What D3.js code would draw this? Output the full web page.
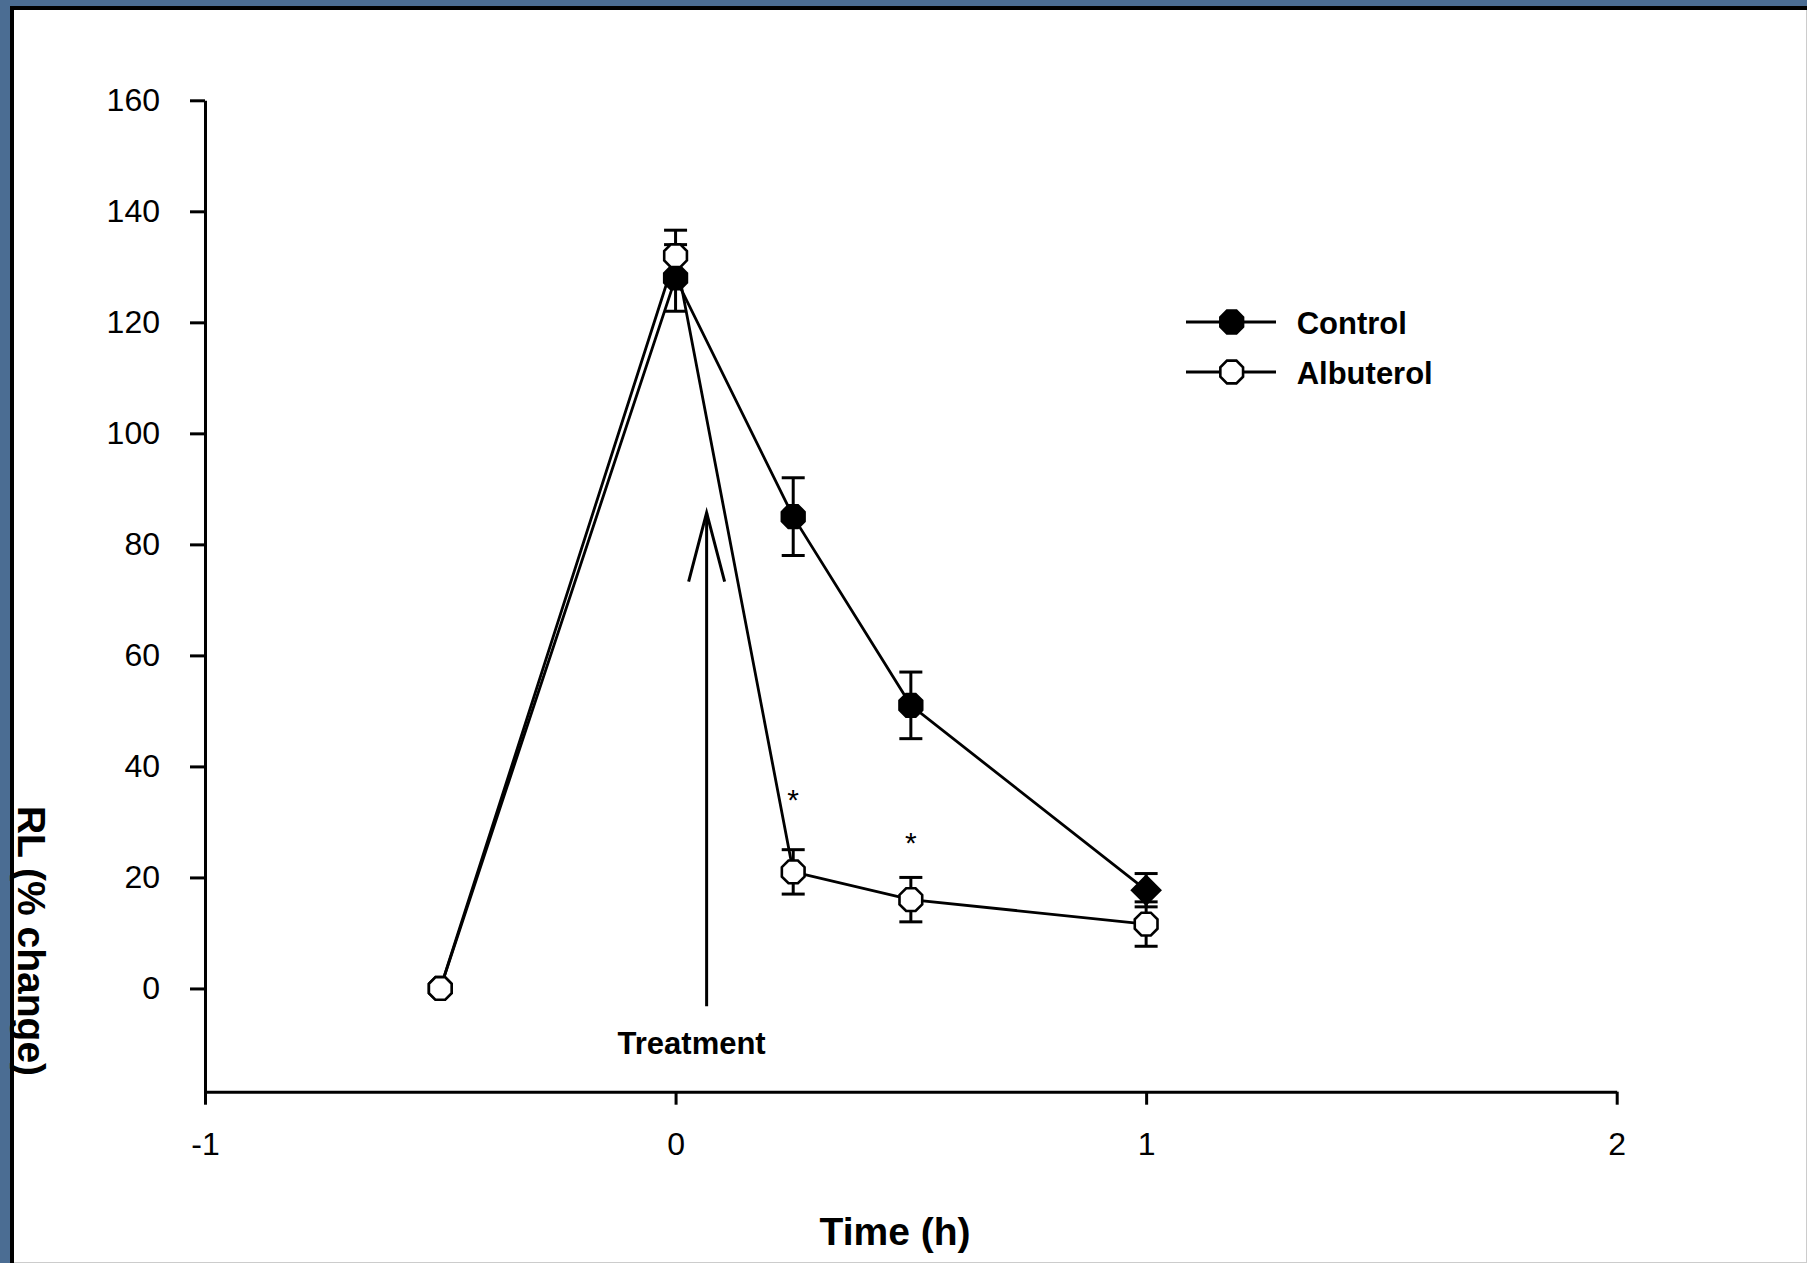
<!DOCTYPE html>
<html>
<head>
<meta charset="utf-8">
<script src="https://cdn.jsdelivr.net/npm/d3@7"></script>
<style>
  body { margin: 0; background: #4b6d93; }
  svg { display: block; }
  text { font-family: "Liberation Sans", Arial, sans-serif; fill: #000; }
</style>
</head>
<body>
<div id="chart"></div>
<script>
// values (mean and error bar half-length)
var times = [-0.5, 0, 0.25, 0.5, 1];
var controlMean = [0, 128, 85, 51, 17.7];
var controlErr = [0, 6, 7, 6, 3];
var albuterolMean = [0, 132, 21, 16, 11.6];
var albuterolErr = [0, 4.6, 4, 4, 4];
var seriesNames = ["Control", "Albuterol"];
var xTicks = [-1, 0, 1, 2];
var yTicks = [0, 20, 40, 60, 80, 100, 120, 140, 160];
var sigTimes = [0.25, 0.5];
var sigLevels = [35.2, 27.4];
var arrowTime = 0.066;
var arrowFrom = -3.2, arrowTo = 85.7;

var W = 1807, H = 1263;

var svg = d3.select("#chart")
  .append("svg")
  .attr("width", W)
  .attr("height", H);

// blue frame + white panel
svg.append("rect").attr("width", W).attr("height", H).attr("fill", "#4b6d93");
svg.append("rect")
  .attr("x", 14).attr("y", 10)
  .attr("width", W - 14).attr("height", H - 10)
  .attr("fill", "#fff");

var x = d3.scaleLinear()
  .domain([-1, 2])
  .range([205, 1616.7]);

var y = d3.scaleLinear()
  .domain([-18.6, 160])
  .range([1091.7, 100.3]);

// axes
var xAxis = svg.append("g")
  .attr("transform", "translate(0," + y(-18.6) + ")")
  .call(d3.axisBottom(x).tickValues(xTicks).tickSize(13).tickSizeOuter(0)
    .tickPadding(28).tickFormat(function(d) { return String(d); }));

var yAxis = svg.append("g")
  .attr("transform", "translate(" + x(-1) + ",0)")
  .call(d3.axisLeft(y).tickValues(yTicks).tickSize(15).tickSizeOuter(0)
    .tickPadding(30).tickFormat(function(d) { return String(d); }));

svg.selectAll(".domain, .tick line")
  .attr("stroke", "#000")
  .attr("stroke-width", 3);
svg.selectAll(".tick text")
  .style("font-size", "32px")
  .style("font-family", "'Liberation Sans', Arial, sans-serif")
  .attr("fill", "#000");
xAxis.selectAll(".tick text").attr("dy", "0.71em");

// axis titles
svg.append("text")
  .attr("x", 895).attr("y", 1245)
  .attr("text-anchor", "middle")
  .style("font-size", "39px").style("font-weight", "bold")
  .text("Time (h)");

svg.append("text")
  .attr("transform", "translate(18,941) rotate(90)")
  .attr("text-anchor", "middle")
  .style("font-size", "39px").style("font-weight", "bold")
  .text("RL (% change)");

// octagon marker path, flat top and bottom
function octagon(r) {
  var pts = d3.range(8).map(function(i) {
    var a = Math.PI / 8 + i * Math.PI / 4;
    return [r * Math.cos(a), r * Math.sin(a)];
  });
  return "M" + pts.join("L") + "Z";
}
var diamond = "M0,-14L14,0L0,14L-14,0Z";

var control = times.map(function(t, i) { return {t: t, m: controlMean[i], e: controlErr[i]}; });
var albuterol = times.map(function(t, i) { return {t: t, m: albuterolMean[i], e: albuterolErr[i]}; });
var series = [
  {name: seriesNames[0], data: control, fill: "#000"},
  {name: seriesNames[1], data: albuterol, fill: "#fff"}
];

var line = d3.line()
  .x(function(d) { return x(d.t); })
  .y(function(d) { return y(d.m); });

// treatment arrow
var ax = x(arrowTime);
svg.append("line")
  .attr("x1", ax).attr("x2", ax)
  .attr("y1", y(arrowFrom)).attr("y2", y(arrowTo))
  .attr("stroke", "#000").attr("stroke-width", 3);
svg.append("path")
  .attr("d", "M" + (ax - 18) + "," + (y(arrowTo) + 69) + "L" + ax + "," + y(arrowTo) + "L" + (ax + 18) + "," + (y(arrowTo) + 69))
  .attr("fill", "none").attr("stroke", "#000").attr("stroke-width", 3);
svg.append("text")
  .attr("x", ax - 15).attr("y", y(-11.8))
  .attr("text-anchor", "middle")
  .style("font-size", "31px").style("font-weight", "bold")
  .text("Treatment");

// lines first
series.forEach(function(s) {
  svg.append("path")
    .datum(s.data)
    .attr("d", line)
    .attr("fill", "none")
    .attr("stroke", "#000")
    .attr("stroke-width", 2.8);
});

// error bars
series.forEach(function(s) {
  var eb = svg.append("g")
    .selectAll("g")
    .data(s.data.filter(function(d) { return d.e > 0; }))
    .enter()
    .append("g")
    .attr("stroke", "#000")
    .attr("stroke-width", 3);
  eb.append("line")
    .attr("x1", function(d) { return x(d.t); })
    .attr("x2", function(d) { return x(d.t); })
    .attr("y1", function(d) { return y(d.m - d.e); })
    .attr("y2", function(d) { return y(d.m + d.e); });
  eb.append("line")
    .attr("x1", function(d) { return x(d.t) - 11.5; })
    .attr("x2", function(d) { return x(d.t) + 11.5; })
    .attr("y1", function(d) { return y(d.m + d.e); })
    .attr("y2", function(d) { return y(d.m + d.e); });
  eb.append("line")
    .attr("x1", function(d) { return x(d.t) - 11.5; })
    .attr("x2", function(d) { return x(d.t) + 11.5; })
    .attr("y1", function(d) { return y(d.m - d.e); })
    .attr("y2", function(d) { return y(d.m - d.e); });
});

// markers
series.forEach(function(s, si) {
  svg.append("g")
    .selectAll("path")
    .data(s.data)
    .enter()
    .append("path")
    .attr("transform", function(d) { return "translate(" + x(d.t) + "," + y(d.m) + ")"; })
    .attr("d", function(d) { return (si === 0 && d.t === 1) ? diamond : octagon(12.3); })
    .attr("fill", s.fill)
    .attr("stroke", "#000")
    .attr("stroke-width", 2.6);
});

// significance marks
svg.selectAll(".sig")
  .data(sigTimes)
  .enter()
  .append("text")
  .attr("class", "sig")
  .attr("x", function(d) { return x(d); })
  .attr("y", function(d, i) { return y(sigLevels[i]) + 17; })
  .attr("text-anchor", "middle")
  .style("font-size", "30px")
  .text("*");

// legend
var legend = svg.append("g").attr("transform", "translate(1186,322)");
series.forEach(function(s, i) {
  var g = legend.append("g").attr("transform", "translate(0," + (i * 50) + ")");
  g.append("line")
    .attr("x1", 0).attr("x2", 90)
    .attr("stroke", "#000").attr("stroke-width", 2.8);
  g.append("path")
    .attr("transform", "translate(45.7,0)")
    .attr("d", octagon(12.3))
    .attr("fill", s.fill)
    .attr("stroke", "#000")
    .attr("stroke-width", 2.6);
  g.append("text")
    .attr("x", 110.7).attr("y", 11.5)
    .style("font-size", "31px").style("font-weight", "bold")
    .text(s.name);
});

// frame borders on top
svg.append("line").attr("x1", 12).attr("x2", 12).attr("y1", 6).attr("y2", H)
  .attr("stroke", "#000").attr("stroke-width", 4);
svg.append("line").attr("x1", 10).attr("x2", W).attr("y1", 8).attr("y2", 8)
  .attr("stroke", "#000").attr("stroke-width", 4);
svg.append("line").attr("x1", W - 0.5).attr("x2", W - 0.5).attr("y1", 10).attr("y2", H)
  .attr("stroke", "#ccc").attr("stroke-width", 1);
svg.append("line").attr("x1", 14).attr("x2", W).attr("y1", H - 0.5).attr("y2", H - 0.5)
  .attr("stroke", "#ccc").attr("stroke-width", 1);
</script>
</body>
</html>
